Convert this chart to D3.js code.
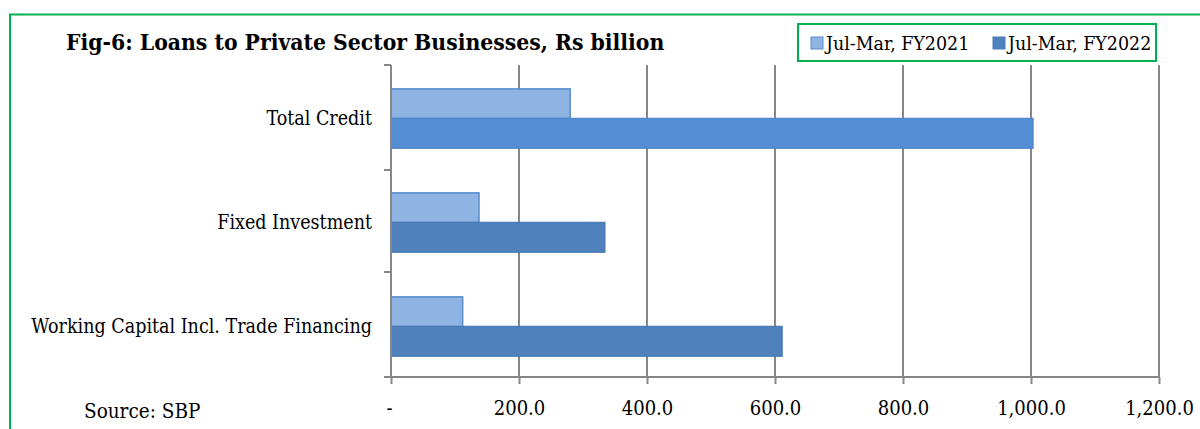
<!DOCTYPE html>
<html>
<head>
<meta charset="utf-8">
<script src="https://cdn.jsdelivr.net/npm/d3@7"></script>
<style>
  body { margin: 0; background: #fff; }
  svg { display: block; }
  text { font-family: 'DejaVu Serif Condensed', 'DejaVu Serif', serif; fill: #000; }
</style>
</head>
<body>
<div id="chart"></div>
<script>
const categories = ['Total Credit', 'Fixed Investment', 'Working Capital Incl. Trade Financing'];
const seriesNames = ['Jul-Mar, FY2021', 'Jul-Mar, FY2022'];
const fy2021Values = [280, 137.5, 112];
const fy2022Values = [1003, 334, 611];
const tickValues = [0, 200, 400, 600, 800, 1000, 1200];

drawChart('chart');

function drawChart(divId) {
    const svgWidth = 1200;
    const svgHeight = 429;

    const plotLeft = 391;
    const plotRight = 1159;
    const plotTop = 65;
    const plotBottom = 377;

    const lightFill = '#8eb4e3';
    const lightStroke = '#5a8ccb';
    const darkFill = '#4f81bd';
    const brightFill = '#558ed5';
    const gridColor = '#878787';
    const green = '#00b050';
    const serif = "'DejaVu Serif Condensed', 'DejaVu Serif', serif";

    const svg = d3.select('#' + divId)
        .append('svg')
        .attr('width', svgWidth)
        .attr('height', svgHeight);

    // outer frame
    svg.append('rect')
        .attr('x', 10)
        .attr('y', 14.5)
        .attr('width', svgWidth + 20)
        .attr('height', svgHeight + 20)
        .attr('fill', 'none')
        .attr('stroke', green)
        .attr('stroke-width', 2);

    const x = d3.scaleLinear()
        .domain([0, 1200])
        .range([plotLeft, plotRight]);

    // bars sit a touch low in the band, like the original
    const y = d3.scaleBand()
        .domain(categories)
        .range([plotTop + 1.5, plotBottom + 1.5])
        .paddingInner(0.43)
        .paddingOuter(0.215);

    const inner = d3.scaleBand()
        .domain(seriesNames)
        .range([0, y.bandwidth()]);

    // gridlines
    svg.append('g')
        .selectAll('line')
        .data(tickValues.slice(1))
        .join('line')
        .attr('x1', d => x(d))
        .attr('x2', d => x(d))
        .attr('y1', plotTop)
        .attr('y2', plotBottom)
        .attr('stroke', gridColor)
        .attr('stroke-width', 2);

    const rows = seriesNames.map((name, i) => ({ name, values: i === 0 ? fy2021Values : fy2022Values }));

    rows.forEach((series, si) => {
        svg.append('g')
            .selectAll('rect')
            .data(categories)
            .join('rect')
            .attr('x', x(0))
            .attr('y', d => y(d) + inner(series.name))
            .attr('width', (d, i) => x(series.values[i]) - x(0))
            .attr('height', inner.bandwidth())
            .attr('fill', (d, i) => si === 0 ? lightFill : (i === 0 ? brightFill : darkFill))
            .attr('stroke', (d, i) => si === 0 ? lightStroke : (i === 0 ? '#4f86cc' : '#4a7cb8'))
            .attr('stroke-width', 1.5);
    });

    // axes
    const xAxis = svg.append('g')
        .attr('transform', `translate(0, ${plotBottom})`)
        .call(d3.axisBottom(x)
            .tickValues(tickValues)
            .tickSize(7)
            .tickPadding(17)
            .tickFormat(d => d === 0 ? '-' : d3.format(',.1f')(d)));
    xAxis.attr('font-family', serif);
    xAxis.select('.domain')
        .attr('d', `M${plotLeft - 7},0H${plotRight}`)
        .attr('stroke', gridColor)
        .attr('stroke-width', 2);
    xAxis.selectAll('.tick line').attr('stroke', gridColor).attr('stroke-width', 2);
    xAxis.selectAll('.tick text')
        .attr('font-size', 20)
        .attr('fill', '#000');
    xAxis.select('.tick text').attr('dx', -2);

    const yAxis = svg.append('g')
        .attr('transform', `translate(${plotLeft}, 0)`);
    yAxis.append('line')
        .attr('y1', plotTop)
        .attr('y2', plotBottom)
        .attr('stroke', gridColor)
        .attr('stroke-width', 2);
    const boundaries = [plotTop, 170, 272];
    yAxis.selectAll('.ytick')
        .data(boundaries)
        .join('line')
        .attr('x1', -7)
        .attr('x2', 0)
        .attr('y1', d => d)
        .attr('y2', d => d)
        .attr('stroke', gridColor)
        .attr('stroke-width', 2);

    svg.append('g')
        .selectAll('text')
        .data(categories)
        .join('text')
        .attr('x', 372)
        .attr('y', d => y(d) + y.bandwidth() / 2)
        .attr('text-anchor', 'end')
        .attr('dominant-baseline', 'central')
        .attr('font-size', 19.5)
        .text(d => d);

    // title
    svg.append('text')
        .attr('x', 66)
        .attr('y', 50)
        .attr('font-size', 22.7)
        .attr('font-weight', 'bold')
        .text('Fig-6: Loans to Private Sector Businesses, Rs billion');

    // legend
    const legend = svg.append('g');
    legend.append('rect')
        .attr('x', 798)
        .attr('y', 24)
        .attr('width', 358)
        .attr('height', 37)
        .attr('fill', '#fff')
        .attr('stroke', green)
        .attr('stroke-width', 2);
    const legendX = [811, 993];
    seriesNames.forEach((name, i) => {
        legend.append('rect')
            .attr('x', legendX[i])
            .attr('y', 37)
            .attr('width', 12)
            .attr('height', 12)
            .attr('fill', i === 0 ? lightFill : darkFill)
            .attr('stroke', i === 0 ? lightStroke : '#4a7cb8')
            .attr('stroke-width', 1);
        legend.append('text')
            .attr('x', legendX[i] + 15)
            .attr('y', 50)
            .attr('font-size', 19.4)
            .text(name);
    });

    svg.append('text')
        .attr('x', 84)
        .attr('y', 418)
        .attr('font-size', 20.5)
        .text('Source: SBP');
}
</script>
</body>
</html>
